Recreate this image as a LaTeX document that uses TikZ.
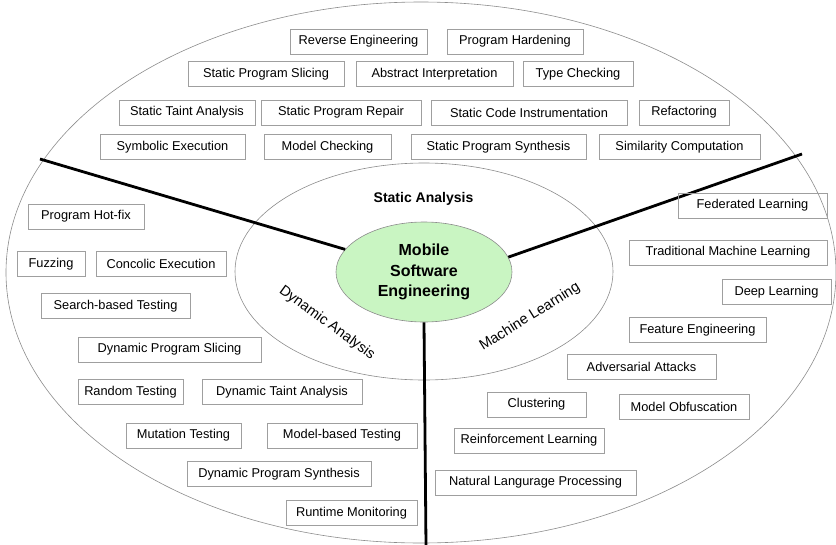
\documentclass[tikz,border=0pt]{standalone}
\usepackage{fontspec}
\setmainfont{Liberation Sans}
\usepackage{xcolor}
\usetikzlibrary{shapes.geometric}
\definecolor{hubgreen}{HTML}{C9F5C2}

\begin{document}
\begin{tikzpicture}[x=1pt, y=-1pt, thick,
    box/.style = {draw=gray!75, line width=0.7pt, inner xsep=4pt, minimum width=#1, minimum height=25pt, font=\fontsize{12.8}{15}\selectfont},
    hub/.style = {draw=gray!90, line width=0.6pt, ellipse, fill=hubgreen, minimum width=176pt, minimum height=100pt, inner sep=0pt, align=center, font=\fontsize{16}{20.5}\selectfont\bfseries},
    ring/.style = {draw=gray!90, line width=0.6pt},
    sector/.style = {font=\fontsize{14.5}{17}\selectfont},
    divider/.style = {line width=2.8pt}]
    \useasboundingbox (0,0) rectangle (836,544);
    \draw[ring] (421,272.5) ellipse [x radius=415, y radius=270.5];
    \draw[ring] (424,271.5) ellipse [x radius=189, y radius=108.5];
    \node[hub](mse) at (424,272){Mobile\\Software\\Engineering};

    \node[sector, font=\fontsize{14}{17}\selectfont\bfseries](sa) at (423.5,199){Static Analysis};
    \node[sector, rotate=-36](da) at (327,323){Dynamic Analysis};
    \node[sector, rotate=32](ml) at (530,317){Machine Learning};

    \coordinate (ltip) at (40,159);
    \coordinate (rtip) at (802,154);
    \coordinate (btip) at (426,546);
    \path[divider]
    (mse.164) edge (ltip)
    (mse.10) edge (rtip)
    (mse.south) edge (btip)
    ;

    % static analysis
    \node[box=137pt](rev) at (358.5,41.5){Reverse Engineering};
    \node[box=136pt](hard) at (515,41.5){Program Hardening};
    \node[box=156pt](sps) at (266,74){Static Program Slicing};
    \node[box=157pt](ai) at (434.5,74){Abstract Interpretation};
    \node[box=110pt](tc) at (578,74){Type Checking};
    \node[box=136pt](sta) at (187,112.5){Static Taint Analysis};
    \node[box=160pt](spr) at (341,112.5){Static Program Repair};
    \node[box=196pt](sci) at (529,112.5){Static Code Instrumentation};
    \node[box=90pt](ref) at (684,112.5){Refactoring};
    \node[box=145pt](se) at (172.5,147){Symbolic Execution};
    \node[box=127pt](mc) at (327.5,147){Model Checking};
    \node[box=175pt](spsy) at (498.5,147){Static Program Synthesis};
    \node[box=161pt](sim) at (679.5,147){Similarity Computation};

    % dynamic analysis
    \node[box=116pt](hot) at (86,216.5){Program Hot-fix};
    \node[box=68pt](fuzz) at (51,264){Fuzzing};
    \node[box=130pt](conc) at (161,264){Concolic Execution};
    \node[box=149pt](sbt) at (115.5,306){Search-based Testing};
    \node[box=183pt](dps) at (169.5,349.5){Dynamic Program Slicing};
    \node[box=105pt](rt) at (130.5,392){Random Testing};
    \node[box=160pt](dta) at (282,392){Dynamic Taint Analysis};
    \node[box=115pt](mt) at (183.5,435.5){Mutation Testing};
    \node[box=150pt](mbt) at (342,435.5){Model-based Testing};
    \node[box=184pt](dpsy) at (279,474){Dynamic Program Synthesis};
    \node[box=131pt](rm) at (351.5,513){Runtime Monitoring};

    % machine learning
    \node[box=149pt](fl) at (752.5,205.5){Federated Learning};
    \node[box=198pt](tml) at (728,252.5){Traditional Machine Learning};
    \node[box=109pt](dl) at (776.5,292){Deep Learning};
    \node[box=137pt](fe) at (697.5,330){Feature Engineering};
    \node[box=149pt](aa) at (641.5,367){Adversarial Attacks};
    \node[box=99pt](cl) at (536.5,404.5){Clustering};
    \node[box=130pt](mo) at (684,407){Model Obfuscation};
    \node[box=150pt](rl) at (529,440.5){Reinforcement Learning};
    \node[box=201pt](nlp) at (535.5,482.5){Natural Langurage Processing};
\end{tikzpicture}
\end{document}
